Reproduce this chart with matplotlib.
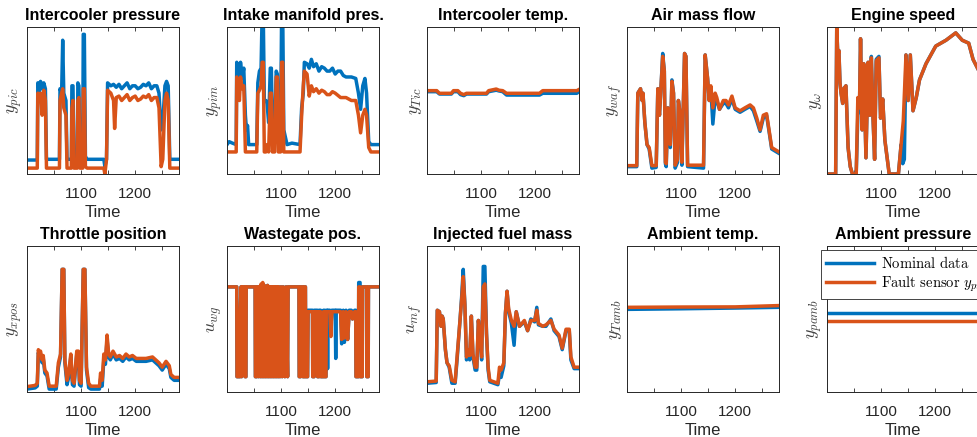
import matplotlib
matplotlib.use("Agg")
import matplotlib.pyplot as plt

plt.rcParams['font.family'] = ['Liberation Sans', 'DejaVu Sans']
plt.rcParams['mathtext.fontset'] = 'cm'

# x axis
time_ticks = [1000, 1050, 1100, 1150, 1200, 1250]
time_tick_labels = ['', '', '1100', '', '1200', '']
time_range = (1000, 1281)

titles = ['Intercooler pressure', 'Intake manifold pres.', 'Intercooler temp.', 'Air mass flow', 'Engine speed',
          'Throttle position', 'Wastegate pos.', 'Injected fuel mass', 'Ambient temp.', 'Ambient pressure']
ylabels = [r'$y_{pic}$', r'$y_{pim}$', r'$y_{Tic}$', r'$y_{waf}$', r'$y_{\omega}$',
           r'$y_{xpos}$', r'$u_{wg}$', r'$u_{mf}$', r'$y_{Tamb}$', r'$y_{pamb}$']
legend_labels = [r'$\mathrm{Nominal\ data}$', r'$\mathrm{Fault\ sensor}\ y_{pim}$']

# (time, scaled value) pairs, 0 = bottom of axes, 1 = top
pic_nominal = [(1000, .095), (1019, .095), (1020, .62), (1023, .56), (1025, .63), (1028, .58), (1031, .62),
               (1034, .58), (1036, .1), (1060, .1), (1061, .58), (1064, .55), (1066, .91), (1068, .55),
               (1072, .5), (1074, .1), (1082, .1), (1083, .6), (1085, .6), (1087, .1), (1093, .1), (1094, .62),
               (1096, .6), (1098, .1), (1103, .1), (1104, .95), (1106, .95), (1108, .12), (1111, .1), (1142, .1),
               (1144, .05), (1147, .1), (1149, .62), (1155, .6), (1160, .61), (1165, .59), (1170, .61),
               (1175, .58), (1180, .6), (1185, .62), (1190, .58), (1195, .6), (1200, .6), (1205, .58),
               (1210, .59), (1215, .61), (1220, .6), (1225, .62), (1230, .58), (1235, .6), (1240, .6),
               (1244, .55), (1248, .3), (1251, .35), (1255, .6), (1258, .63), (1261, .6), (1264, .1), (1281, .1)]
pic_fault = [(1000, .04), (1019, .04), (1020, .55), (1023, .5), (1025, .55), (1028, .4), (1031, .57), (1034, .5),
             (1036, .04), (1060, .04), (1061, .5), (1064, .55), (1066, .58), (1068, .45), (1072, .4), (1074, .04),
             (1082, .04), (1083, .45), (1085, .5), (1087, .04), (1093, .04), (1094, .5), (1096, .52), (1098, .04),
             (1103, .04), (1104, .58), (1106, .58), (1108, .05), (1111, .04), (1142, .04), (1144, .0),
             (1147, .1), (1149, .57), (1155, .55), (1160, .5), (1162, .31), (1165, .52), (1170, .53),
             (1175, .5), (1180, .52), (1185, .54), (1190, .5), (1195, .52), (1200, .53), (1205, .5),
             (1210, .51), (1215, .53), (1220, .52), (1225, .54), (1230, .5), (1235, .52), (1240, .52),
             (1244, .45), (1248, .05), (1251, .1), (1255, .5), (1258, .55), (1261, .5), (1264, .04), (1281, .04)]

pim_nominal = [(1000, .2), (1004, .22), (1010, .21), (1017, .2), (1018, .76), (1021, .7), (1023, .6), (1025, .76),
               (1028, .65), (1031, .72), (1034, .4), (1036, .3), (1038, .33), (1040, .2), (1055, .2), (1057, .62),
               (1060, .7), (1063, .72), (1065, 1.1), (1067, 1.1), (1069, .5), (1072, .5), (1074, .48),
               (1077, .35), (1080, .72), (1082, .72), (1084, .3), (1088, .3), (1091, .7), (1093, .68), (1095, .4),
               (1099, .25), (1101, 1.1), (1103, 1.1), (1105, .3), (1108, .25), (1111, .2), (1120, .21),
               (1135, .2), (1138, .45), (1141, .55), (1143, .76), (1148, .75), (1152, .72), (1156, .78),
               (1160, .73), (1165, .75), (1170, .7), (1175, .73), (1180, .72), (1185, .7), (1190, .7),
               (1195, .72), (1200, .68), (1205, .7), (1210, .7), (1215, .67), (1220, .66), (1230, .66),
               (1238, .65), (1243, .55), (1247, .44), (1251, .6), (1255, .65), (1258, .55), (1262, .22),
               (1266, .2), (1281, .2)]
pim_fault = [(1000, .15), (1017, .15), (1018, .66), (1021, .55), (1023, .5), (1025, .66), (1028, .58), (1031, .6),
             (1034, .15), (1055, .15), (1057, .55), (1060, .57), (1063, .6), (1065, .76), (1067, .76), (1069, .15),
             (1072, .15), (1074, .2), (1077, .15), (1080, .55), (1082, .55), (1084, .15), (1088, .15),
             (1091, .66), (1093, .66), (1095, .15), (1099, .15), (1101, .76), (1103, .76), (1105, .15),
             (1111, .15), (1135, .15), (1138, .4), (1141, .6), (1143, .7), (1148, .68), (1152, .53),
             (1156, .6), (1160, .56), (1165, .58), (1170, .55), (1175, .57), (1180, .56), (1185, .54),
             (1190, .54), (1195, .56), (1200, .55), (1210, .52), (1220, .52), (1230, .5), (1238, .5),
             (1243, .4), (1247, .28), (1251, .4), (1255, .44), (1258, .4), (1262, .18), (1266, .15), (1281, .15)]

tic_nominal = [(1000, .56), (1018, .56), (1023, .544), (1045, .544), (1049, .56), (1057, .56), (1062, .54),
               (1068, .533), (1073, .544), (1110, .544), (1114, .56), (1128, .57), (1133, .565), (1140, .56),
               (1147, .537), (1208, .537), (1214, .549), (1277, .549), (1281, .56)]
tic_fault = [(1000, .567), (1018, .567), (1023, .549), (1045, .549), (1049, .567), (1057, .567), (1062, .549),
             (1068, .54), (1073, .549), (1110, .549), (1114, .567), (1128, .578), (1133, .57), (1140, .567),
             (1147, .549), (1208, .549), (1214, .567), (1277, .567), (1281, .575)]

waf_nominal = [(1000, .05), (1018, .05), (1020, .55), (1025, .58), (1028, .5), (1029.5, .55), (1033, .35),
               (1037, .2), (1041, .17), (1046, .04), (1054, .045), (1057, .58), (1060, .4), (1063, .6), (1066, .82),
               (1069, .7), (1071, .07), (1072.5, .05), (1075.5, .45), (1080, .18), (1083, .64), (1086, .55),
               (1089, .04), (1093.5, .08), (1095, .5), (1098.5, .4), (1101.5, .06), (1106.4, .82), (1109, .8),
               (1112, .05), (1141.5, .04), (1144.5, .81), (1149, .65), (1152, .5), (1155, .58), (1158.7, .34),
               (1163, .52), (1166, .5), (1171, .44), (1178, .48), (1183, .48), (1187.6, .45), (1194, .51),
               (1200, .44), (1209, .42), (1218, .44), (1227.6, .46), (1233.7, .43), (1240, .36), (1246, .29),
               (1252, .38), (1258, .4), (1262.6, .29), (1267.5, .17), (1281, .14)]
waf_fault = [(1000, .057), (1018, .057), (1020, .55), (1025, .58), (1028, .5), (1029.5, .55), (1033, .35),
             (1037, .2), (1041, .18), (1046, .057), (1054, .057), (1057, .58), (1060, .4), (1063, .6), (1066, .8),
             (1069, .7), (1071, .08), (1072.5, .07), (1075.5, .45), (1080, .2), (1083, .63), (1086, .55),
             (1089, .06), (1093.5, .1), (1095, .5), (1098.5, .4), (1101.5, .08), (1106.4, .82), (1109, .8),
             (1112, .06), (1141.5, .06), (1144.5, .81), (1149, .65), (1152, .5), (1155, .6), (1158.7, .45),
             (1163, .55), (1166, .52), (1171, .44), (1178, .5), (1183, .5), (1187.6, .47), (1194, .53),
             (1200, .45), (1209, .43), (1218, .45), (1227.6, .47), (1233.7, .45), (1240, .38), (1246, .3),
             (1252, .4), (1258, .41), (1262.6, .3), (1267.5, .18), (1281, .15)]

omega_nominal = [(1000, 0), (1016, 0), (1018, 1.0), (1020, .8), (1022, .84), (1024, .62), (1026, .55),
                 (1029, .48), (1031, .58), (1035, .6), (1039, .18), (1043, .05), (1047, 0), (1054, 0),
                 (1057, .4), (1060, .45), (1062, .92), (1065, .3), (1068, .75), (1072, .11), (1076, .76),
                 (1079, .4), (1082, .8), (1085, .39), (1088, .1), (1091, .78), (1096, .8), (1099, .38),
                 (1103, .51), (1107, .23), (1115, 0), (1132, 0), (1137, .2), (1140, .07), (1143, .1), (1146, .81),
                 (1150, .5), (1154, .81), (1159, .43), (1165, .52), (1171, .64), (1183, .75), (1201, .87),
                 (1220, .91), (1238, .96), (1250, .91), (1262, .89), (1270, .78), (1281, .7)]
omega_fault = [(1000, 0), (1016, 0), (1018, 1.0), (1020, .8), (1022, .84), (1024, .62), (1026, .55),
               (1029, .48), (1031, .58), (1035, .6), (1039, .18), (1043, .05), (1047, 0), (1054, 0),
               (1057, .52), (1060, .45), (1062, .92), (1065, .3), (1068, .75), (1072, .11), (1076, .76),
               (1079, .4), (1082, .79), (1085, .39), (1088, .1), (1091, .77), (1096, .79), (1099, .38),
               (1103, .51), (1107, .23), (1115, 0), (1132, 0), (1137, .2), (1141, .36), (1146, .81),
               (1150, .5), (1154, .81), (1159, .43), (1165, .52), (1171, .64), (1183, .75), (1201, .87),
               (1220, .91), (1238, .96), (1250, .91), (1262, .89), (1270, .78), (1281, .7)]

xpos_nominal = [(1000, .02), (1015, .028), (1019, .04), (1021, .27), (1023, .24), (1025, .26), (1028, .2),
                (1030, .23), (1033, .13), (1037, .11), (1041, .02), (1054, .02), (1058, .17), (1062, .24),
                (1065, .84), (1068, .84), (1070, .2), (1074, .05), (1077, .1), (1081, .24), (1084, .05),
                (1087, .04), (1092, .26), (1095, .26), (1097, .05), (1100, .04), (1104, .84), (1107, .84),
                (1110, .15), (1114, .03), (1118, .02), (1134, .02), (1136, .09), (1139, .04), (1142, .22),
                (1145, .19), (1148, .36), (1151, .24), (1154, .22), (1159, .26), (1165, .22), (1171, .23),
                (1177, .21), (1183, .24), (1189, .22), (1195, .23), (1202, .21), (1208, .21), (1220, .21),
                (1232, .22), (1238, .2), (1244, .18), (1250, .15), (1257, .19), (1263, .16), (1266, .1),
                (1272, .08), (1281, .08)]
xpos_fault = [(1000, .037), (1015, .045), (1019, .06), (1021, .29), (1023, .26), (1025, .28), (1028, .22),
              (1030, .25), (1033, .15), (1037, .13), (1041, .04), (1054, .04), (1058, .2), (1062, .26),
              (1065, .84), (1068, .84), (1070, .22), (1074, .08), (1077, .13), (1081, .26), (1084, .08),
              (1087, .06), (1092, .28), (1095, .28), (1097, .08), (1100, .06), (1104, .84), (1107, .84),
              (1110, .17), (1114, .06), (1118, .04), (1134, .04), (1136, .13), (1139, .08), (1142, .26),
              (1145, .22), (1148, .39), (1151, .26), (1154, .24), (1159, .28), (1165, .24), (1171, .25),
              (1177, .23), (1183, .26), (1189, .24), (1195, .25), (1202, .23), (1208, .23), (1220, .23),
              (1232, .24), (1238, .22), (1244, .2), (1250, .17), (1257, .21), (1263, .18), (1266, .12),
              (1272, .1), (1281, .1)]

wg_nominal = [(1000, .72), (1018, .72), (1018.5, .105), (1024, .105), (1024.5, .55), (1026, .72), (1027, .105),
              (1028, .72), (1033, .72), (1033.5, .105), (1035, .105), (1035.5, .72), (1052, .72),
              (1052.5, .105), (1055, .105), (1055.5, .72), (1058, .72), (1058.5, .105), (1060, .72),
              (1062, .105), (1063, .73), (1065, .105), (1066, .73), (1068, .105), (1069, .73), (1071, .105),
              (1072, .72), (1074, .105), (1075, .73), (1077, .105), (1078, .72), (1080, .105), (1081, .72),
              (1083, .105), (1084, .72), (1086, .105), (1087, .72), (1089, .105), (1090, .72), (1092, .105),
              (1093, .72), (1095, .105), (1096, .72), (1098, .105), (1100, .72), (1102, .105), (1104, .72),
              (1107, .105), (1109, .72), (1112, .105), (1113, .72), (1133, .72), (1133.5, .105), (1136, .105),
              (1136.5, .72), (1140, .72), (1140.5, .105), (1143, .105), (1143.5, .72), (1145, .72),
              (1145.5, .105), (1149, .105), (1150, .56), (1158, .56), (1158.5, .105), (1161, .105),
              (1161.5, .56), (1167, .56), (1167.5, .105), (1170, .105), (1170.5, .56), (1173, .56),
              (1173.5, .105), (1178, .105), (1178.5, .56), (1180, .56), (1180.5, .105), (1183, .105),
              (1183.5, .56), (1185, .56), (1186, .16), (1187, .56), (1190, .56), (1192, .44), (1194, .56),
              (1200, .56), (1201, .23), (1202, .56), (1210, .56), (1212, .33), (1215, .56), (1217, .34),
              (1220, .56), (1223, .36), (1226, .56), (1230, .56), (1232, .5), (1236, .56), (1238, .56),
              (1238.5, .105), (1243, .105), (1243.5, .75), (1246, .75), (1246.5, .105), (1250, .105),
              (1250.5, .72), (1258, .72), (1258.5, .105), (1261, .105), (1261.5, .72), (1281, .72)]
wg_fault = [(1000, .72), (1018, .72), (1018.5, .105), (1024, .105), (1024.5, .55), (1026, .72), (1027, .105),
            (1028, .72), (1033, .72), (1033.5, .105), (1035, .105), (1035.5, .72), (1052, .72),
            (1052.5, .105), (1055, .105), (1055.5, .72), (1058, .72), (1058.5, .105), (1060, .72),
            (1062, .105), (1063, .74), (1065, .105), (1066, .75), (1068, .105), (1069, .73), (1071, .105),
            (1072, .72), (1074, .105), (1075, .73), (1077, .105), (1078, .72), (1080, .105), (1081, .72),
            (1083, .105), (1084, .72), (1086, .105), (1087, .72), (1089, .105), (1090, .72), (1092, .105),
            (1093, .72), (1095, .105), (1096, .72), (1098, .105), (1100, .72), (1102, .105), (1104, .72),
            (1107, .105), (1109, .72), (1112, .105), (1113, .72), (1133, .72), (1133.5, .105), (1136, .105),
            (1136.5, .72), (1140, .72), (1140.5, .105), (1143, .105), (1143.5, .72), (1145, .72),
            (1145.5, .105), (1149, .105), (1150, .55), (1158, .55), (1158.5, .105), (1161, .105),
            (1161.5, .55), (1167, .55), (1167.5, .105), (1170, .105), (1170.5, .55), (1173, .55),
            (1173.5, .105), (1178, .105), (1178.5, .55), (1180, .55), (1180.5, .105), (1183, .105),
            (1183.5, .55), (1190, .55), (1192, .38), (1194, .55), (1200, .55), (1210, .55), (1212, .36),
            (1215, .55), (1217, .37), (1220, .55), (1223, .36), (1226, .55), (1230, .55), (1232, .5),
            (1236, .55), (1238, .55), (1238.5, .105), (1243, .105), (1243.5, .72), (1246, .72),
            (1246.5, .105), (1250, .105), (1250.5, .72), (1258, .72), (1258.5, .105), (1261, .105),
            (1261.5, .72), (1281, .72)]

mf_nominal = [(1000, .06), (1017, .065), (1019, .56), (1023, .55), (1026, .45), (1028, .52), (1030, .5),
              (1034, .29), (1037, .2), (1041, .17), (1046, .06), (1052, .06), (1056, .24), (1061, .49),
              (1064, .65), (1067, .84), (1070, .6), (1073, .22), (1076, .26), (1079, .22), (1082, .52),
              (1085, .24), (1089, .15), (1092, .15), (1095, .49), (1098, .38), (1101, .22), (1104, .86),
              (1107, .86), (1110, .4), (1113, .15), (1116, .07), (1131, .05), (1134, .12), (1137, .1),
              (1142, .18), (1145, .54), (1148, .69), (1151, .55), (1156, .47), (1161, .32), (1165, .55),
              (1171, .45), (1180, .48), (1186, .42), (1192, .5), (1199, .48), (1203, .58), (1206, .46),
              (1214, .45), (1220, .45), (1229, .5), (1235, .42), (1244, .38), (1250, .29), (1257, .42),
              (1263, .42), (1266, .22), (1272, .16), (1281, .16)]
mf_fault = [(1000, .07), (1017, .075), (1019, .56), (1023, .55), (1026, .45), (1028, .52), (1030, .5),
            (1034, .29), (1037, .2), (1041, .18), (1046, .08), (1052, .07), (1056, .26), (1061, .49),
            (1064, .63), (1067, .79), (1070, .6), (1073, .24), (1076, .29), (1079, .25), (1082, .52),
            (1085, .26), (1089, .17), (1092, .17), (1095, .49), (1098, .38), (1101, .24), (1104, .72),
            (1107, .74), (1110, .4), (1113, .17), (1116, .08), (1131, .06), (1134, .17), (1137, .15),
            (1142, .2), (1145, .54), (1148, .69), (1151, .57), (1156, .49), (1161, .45), (1165, .55),
            (1171, .45), (1180, .49), (1186, .42), (1192, .49), (1199, .49), (1203, .56), (1206, .47),
            (1214, .45), (1220, .46), (1229, .49), (1235, .43), (1244, .39), (1250, .3), (1257, .43),
            (1263, .43), (1266, .24), (1272, .17), (1281, .17)]

tamb_nominal = [(1000, .566), (1100, .57), (1200, .575), (1281, .58)]
tamb_fault = [(1000, .58), (1100, .582), (1200, .583), (1281, .592)]

pamb_nominal = [(1000, .54), (1281, .54)]
pamb_fault = [(1000, .486), (1281, .486)]

series = [(pic_nominal, pic_fault), (pim_nominal, pim_fault), (tic_nominal, tic_fault),
          (waf_nominal, waf_fault), (omega_nominal, omega_fault), (xpos_nominal, xpos_fault),
          (wg_nominal, wg_fault), (mf_nominal, mf_fault), (tamb_nominal, tamb_fault),
          (pamb_nominal, pamb_fault)]

blue = '#0072BD'
orange = '#D95319'
dark = '#262626'

W, H = 977, 437
fig = plt.figure(figsize=(W / 100, H / 100), dpi=100)

for i in range(10):
    row, col = divmod(i, 5)
    left = 27 + 200 * col
    top = 27 if row == 0 else 246
    height = 147 if row == 0 else 146
    ax = fig.add_axes([left / W, 1 - (top + height) / H, 152 / W, height / H])

    nom, flt = series[i]
    t1, v1 = zip(*nom)
    t2, v2 = zip(*flt)
    ax.plot(t1, v1, color=blue, lw=2.5, label=legend_labels[0], solid_joinstyle='round')
    ax.plot(t2, v2, color=orange, lw=2.5, label=legend_labels[1], solid_joinstyle='round')

    ax.set_xlim(time_range)
    ax.set_ylim(0, 1)
    ax.set_xticks(time_ticks)
    ax.set_xticklabels(time_tick_labels)
    ax.set_yticks([])
    ax.tick_params(axis='x', direction='in', top=True, length=3, width=0.6,
                   colors=dark, labelsize=11, pad=9)
    for s in ax.spines.values():
        s.set_color(dark)
        s.set_linewidth(0.7)

    ax.set_title(titles[i], fontsize=11.5, fontweight='bold', pad=5)
    ax.set_xlabel('Time', fontsize=12, color=dark, labelpad=3)
    ax.set_ylabel(ylabels[i], fontsize=13, color='#404040', labelpad=2)

    if i == 9:
        leg = ax.legend(loc='upper left', bbox_to_anchor=(-0.04, 0.975), borderaxespad=0,
                        fontsize=10.5, handlelength=3.3, labelspacing=0.25, fancybox=False,
                        framealpha=1, edgecolor=dark, borderpad=0.35, handletextpad=0.5)
        leg.get_frame().set_linewidth(0.6)

fig.savefig('out.png', dpi=100)
